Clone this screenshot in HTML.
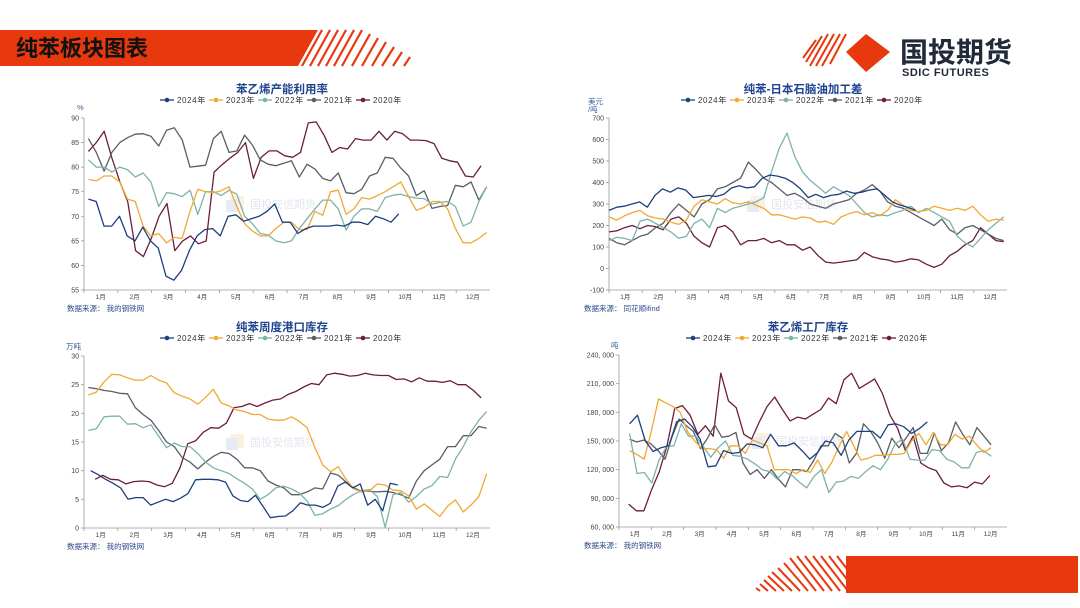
<!DOCTYPE html>
<html><head><meta charset="utf-8">
<style>
html,body{margin:0;padding:0;background:#fff;}
#wrap{position:relative;width:1080px;height:608px;overflow:hidden;background:#fff;font-family:"Liberation Sans","Noto Sans CJK SC",sans-serif;}
svg text{font-family:"Liberation Sans","Noto Sans CJK SC",sans-serif;}
</style></head>
<body>
<div id="wrap">
<svg id="s" width="1080" height="608" viewBox="0 0 1080 608" xmlns="http://www.w3.org/2000/svg">
  <g>
    <polygon points="0,30 318,30 298,66 0,66" fill="#e8380d"/>
    <g stroke="#e8380d" stroke-width="2.2">
      <line x1="322" y1="30" x2="302" y2="66"/><line x1="330" y1="30" x2="310" y2="66"/>
      <line x1="338" y1="30" x2="318" y2="66"/><line x1="346" y1="30" x2="326" y2="66"/>
      <line x1="354" y1="30" x2="334" y2="66"/><line x1="362" y1="30" x2="342" y2="66"/>
      <line x1="370" y1="34" x2="352" y2="66"/><line x1="378" y1="38" x2="362" y2="66"/>
      <line x1="386" y1="42" x2="372" y2="66"/><line x1="394" y1="47" x2="382" y2="66"/>
      <line x1="402" y1="52" x2="393" y2="66"/><line x1="410" y1="57" x2="404" y2="66"/>
    </g>
    <text x="16" y="56" font-size="22" font-weight="bold" fill="#111">纯苯板块图表</text>
  </g>
  <g>
    <g stroke="#e8380d" stroke-width="2">
      <line x1="816" y1="40" x2="803" y2="58"/><line x1="822" y1="36" x2="806" y2="62"/>
      <line x1="828" y1="34" x2="810" y2="66"/><line x1="834" y1="34" x2="816" y2="66"/>
      <line x1="840" y1="34" x2="822" y2="66"/><line x1="846" y1="34" x2="830" y2="64"/>
    </g>
    <polygon points="866,34 890,52 866,72 846,52" fill="#e8380d"/>
    <text x="900" y="62" font-size="28" font-weight="bold" fill="#222a3a">国投期货</text>
    <text x="902" y="76" font-size="11" font-weight="bold" fill="#222a3a" letter-spacing="0.5">SDIC FUTURES</text>
  </g>
  <g>
    <rect x="846" y="556" width="232" height="37" fill="#e8380d"/>
    <g stroke="#e8380d" stroke-width="2">
      <line x1="760" y1="591" x2="756" y2="588"/><line x1="768" y1="591" x2="760" y2="584"/>
      <line x1="776" y1="591" x2="764" y2="580"/><line x1="784" y1="591" x2="768" y2="576"/>
      <line x1="792" y1="591" x2="772" y2="572"/><line x1="800" y1="591" x2="778" y2="568"/>
      <line x1="808" y1="591" x2="784" y2="563"/><line x1="816" y1="591" x2="790" y2="558"/>
      <line x1="824" y1="591" x2="797" y2="556"/><line x1="832" y1="591" x2="805" y2="556"/>
      <line x1="840" y1="591" x2="813" y2="556"/><line x1="848" y1="591" x2="821" y2="556"/>
      <line x1="856" y1="591" x2="829" y2="556"/><line x1="864" y1="591" x2="837" y2="556"/>
    </g>
  </g>
  <g id="charts"></g>
</svg>
</div>
<script>
// ---------- Chart 1: 苯乙烯产能利用率 (%) ----------
const c1_2024 = [73.5,73,68,68,70,66,65,67.8,65,63.5,57.8,57,59,63,66,67.3,67.5,66,70,70.3,69,69.5,70,71,72.5,68.8,68.8,66.5,67.5,68,68,68,68.2,68,68.8,68.8,68.3,70,69.5,68.8,70.5];
const c1_2023 = [77.5,77.2,78.2,78.2,77,73.5,73,68,66,66.5,64.6,65.7,65.5,71,75.5,75,74.8,75.2,76,72,68.5,67,66,66,67.5,68.8,68.8,67.3,67.3,71,70.2,75,75.3,70.4,71.5,73.8,73.5,74.2,75,76,77,74,71.2,71.8,73,73,71.5,67.5,64.6,64.6,65.5,66.7];
const c1_2022 = [81.5,80,80,79,80,79.5,78,78.8,77,72,74.8,74.6,74,75.3,70.4,75,75,74.2,75.3,74.5,70,68.5,66.5,66.2,65,64.6,65,67.5,69.5,71.5,73.3,73.3,71.5,67.2,70,71.5,71.5,71,73.8,74.3,74.5,74,73.7,73.6,72.5,72.8,73,72,68,68.8,73,76];
const c1_2021 = [85.8,83,79.2,83,85,86,86.7,86.8,86.3,84.3,87.5,88,85.6,80,80.2,80.4,85.8,87.3,83,83.3,86.5,84.5,81.5,80.6,80.3,80.8,81.3,78,80.6,79.6,77.7,77.2,78.8,74.8,74.6,75.5,78.2,78.8,82,81.8,79.8,78.2,74.2,75.2,71.6,72,72.2,76.3,76,77,73.3,76];
const c1_2020 = [83.2,85,87.3,81.8,77,73,63,61.8,65.5,70,72.6,63,65,66,64.4,65,79,80.5,81.8,83,85,77.7,82,83.3,83.3,82.3,82,83,89,89.2,86.5,83,84,83.7,85.8,85.5,85.5,87.3,85.5,87.3,86.8,85.5,85.5,85.4,84.8,81.8,81.3,81,78.2,78,80.3];
const c1_ticks = [55,60,65,70,75,80,85,90];

// ---------- Chart 2: 纯苯-日本石脑油加工差 ----------
const c2_2024 = [270,285,290,300,310,285,340,370,355,375,365,330,335,340,335,345,375,385,375,380,420,435,430,420,400,370,330,345,330,340,345,360,350,355,365,370,340,310,295,285,270];
const c2_2023 = [240,225,245,260,270,245,235,230,215,205,225,290,320,310,300,325,305,300,310,295,280,250,250,240,230,240,235,215,220,205,240,255,265,250,260,245,270,320,295,270,265,270,290,280,270,280,270,290,250,220,230,225];
const c2_2022 = [130,145,140,130,220,230,210,190,170,140,150,210,230,190,280,260,280,290,300,310,330,450,560,630,520,450,410,380,350,380,360,340,300,260,240,250,245,260,270,290,260,280,260,240,220,150,120,100,140,180,210,240];
const c2_2021 = [140,120,110,130,150,160,190,210,260,300,270,240,300,320,370,380,400,420,495,460,420,400,370,340,350,330,300,290,280,300,310,320,350,365,390,360,310,290,280,260,240,220,200,230,180,160,190,200,180,160,140,130];
const c2_2020 = [170,175,190,200,185,200,195,180,230,240,210,150,120,100,190,200,170,110,130,130,140,120,130,110,110,85,100,60,30,25,30,35,40,75,55,45,40,30,35,45,40,20,5,20,60,80,110,130,190,160,130,125];
const c2_ticks = [-100,0,100,200,300,400,500,600,700];

// ---------- Chart 3: 纯苯周度港口库存 (万吨) ----------
const c3_2024 = [10,9.3,8.5,7.8,7,5,5.3,5.3,4,4.5,5,4.6,5.2,6,8.4,8.5,8.5,8.4,8,5.6,4.8,4.6,5.7,3.8,1.8,2,2.1,3,4.4,4,4,3.6,4.3,7.3,8,7,7.7,4,5,3,7.8,7.5];
const c3_2023 = [23.2,23.7,25.5,26.8,26.7,26.2,25.8,25.8,26.6,25.8,25.3,23.6,23,22.5,21.6,22.8,24.2,21.8,21.3,20.6,20.3,19.8,19.8,19,18.8,18.8,19.4,18.6,17.5,14,11,9.8,10.7,8.5,6.8,6.3,6.5,7.7,7.5,6.6,6.5,5.6,3.3,4.2,3.1,2,3.8,4.9,2.8,4,5.5,9.5];
const c3_2022 = [17,17.3,19.4,19.5,19.5,18.1,18.2,17.5,18,16,14,14.8,14.2,14.2,13,11.5,10.5,10,9.5,8.6,7.8,6.8,5,5.8,7,7.3,6.8,6.1,4.7,2.2,2.5,3.3,3.9,5,5.9,6.5,6.7,5.5,0.1,5.8,6.2,4.5,5.5,6.8,7.4,9,8.8,12,14.2,16.8,18.8,20.3];
const c3_2021 = [24.5,24.3,24,23.8,23.5,23.4,21,19.8,18.8,17,15,14.2,12.3,11.5,10.3,11.5,12.5,13.2,13,12,10.5,10.5,10,8.2,7.5,7,5.8,5.8,6.3,7,6.8,9.6,9.2,8,7,6.4,6.4,6.3,6.4,6.2,5.8,5.2,8.2,10,11,12,14.2,14.2,16.1,16.1,17.7,17.4];
const c3_2020 = [8.5,9.2,8.5,8.4,7.7,8.1,8.2,8.1,7.5,7.2,7.8,10.5,14.7,15.2,16.7,17.5,17.4,18.3,21,21.2,21.7,21.2,21.8,22.3,22.5,23.3,23.8,24.6,25.2,25,26.7,27,26.8,26.5,26.6,27,26.7,26.6,26.6,25.9,26,25.5,26.2,25.6,25.6,25.4,25.7,25,25,24,22.7];
const c3_ticks = [0,5,10,15,20,25,30];

// ---------- Chart 4: 苯乙烯工厂库存 (吨) ----------
const c4_2024 = [168000,177000,150000,139000,143000,145000,170000,173000,165000,152000,123000,124000,140000,137000,138000,147000,146000,143000,157000,145000,145000,148000,140000,131000,138000,150000,148000,135000,151000,160000,160000,160000,153000,167000,168000,165000,158000,163000,170000];
const c4_2023 = [140000,136000,131000,160000,194000,190000,186000,180000,160000,150000,142000,142000,141000,132000,145000,145000,137000,151000,148000,145000,120000,120000,120000,116000,120000,117000,130000,116000,128000,145000,160000,145000,130000,132000,135000,135000,136000,136000,137000,150000,158000,146000,159000,146000,146000,157000,152000,155000,146000,138000,143000];
const c4_2022 = [158000,116000,117000,106000,130000,144000,145000,168000,155000,155000,144000,133000,143000,150000,135000,134000,131000,126000,120000,118000,110000,118000,114000,107000,101000,113000,120000,96000,107000,108000,113000,111000,118000,124000,120000,131000,147000,152000,131000,130000,130000,141000,140000,131000,128000,122000,122000,138000,140000,134000];
const c4_2021 = [152000,149000,151000,147000,140000,131000,155000,173000,166000,160000,142000,153000,167000,154000,155000,159000,127000,115000,120000,111000,120000,110000,102000,120000,120000,118000,130000,145000,145000,158000,153000,127000,137000,168000,160000,148000,132000,153000,143000,153000,164000,137000,137000,158000,140000,148000,170000,157000,146000,164000,155000,146000];
const c4_2020 = [84000,77000,77000,99000,118000,145000,184000,187000,177000,157000,166000,155000,221000,192000,185000,157000,152000,170000,186000,196000,183000,171000,175000,173000,178000,183000,195000,189000,214000,221000,205000,210000,215000,200000,177000,163000,140000,155000,127000,122000,119000,106000,102000,103000,101000,107000,105000,114000];
const c4_ticks = [60000,90000,120000,150000,180000,210000,240000];

const months = ["1月","2月","3月","4月","5月","6月","7月","8月","9月","10月","11月","12月"];
const years = ["2024年","2023年","2022年","2021年","2020年"];
const colors = ["#1d3f7c","#f0a932","#7db2ab","#595e66","#6b1d3d"];

const NS = "http://www.w3.org/2000/svg";
const root = document.getElementById("charts");
function mk(tag, attrs, parent){
  const e = document.createElementNS(NS, tag);
  for (const k in attrs) e.setAttribute(k, attrs[k]);
  (parent||root).appendChild(e);
  return e;
}
function fmt(v, comma){ return comma ? v.toLocaleString("en-US").replace(/,/g, ", ") : String(v); }

function drawChart(cfg){
  const g = mk("g", {});
  
  
  const {xl,xr,yt,yb,ymin,ymax} = cfg;
  const X = d => xl + d/365*(xr-xl);
  const Y = v => yb - (v-ymin)/(ymax-ymin)*(yb-yt);
  const cx = (xl+xr)/2 - 5;
  // title
  const t = mk("text",{x:cx,y:cfg.titleY,"text-anchor":"middle","font-size":"11.5","font-weight":"bold",fill:"#1f4390"},g);
  t.textContent = cfg.title;
  
  
  // legend
  years.forEach((yr,k)=>{
    const lx = cx - 122 + k*49;
    const lg = mk("g",{},g);
    
    
    mk("line",{x1:lx,y1:cfg.legendY-3,x2:lx+14,y2:cfg.legendY-3,stroke:colors[k],"stroke-width":"1.3"},lg);
    mk("circle",{cx:lx+7,cy:cfg.legendY-3,r:"2.3",fill:colors[k]},lg);
    const lt = mk("text",{x:lx+17,y:cfg.legendY,"font-size":"8",fill:"#333","letter-spacing":"0.6"},lg);
    lt.textContent = yr;
  });
  // watermark
  const wm = mk("g",{opacity:"0.35"},g);
  
  
  mk("rect",{x:cx-52,y:(yt+yb)/2-8,width:"14",height:"14",fill:"#f3d9b0"},wm);
  mk("rect",{x:cx-56,y:(yt+yb)/2-4,width:"12",height:"12",fill:"#b8c8e0"},wm);
  const wt = mk("text",{x:cx-32,y:(yt+yb)/2+4,"font-size":"11",fill:"#aab8cc"},wm);
  wt.textContent = "国投安信期货";
  // axes
  const ax = mk("g",{},g);
  
  
  mk("line",{x1:xl,y1:yt,x2:xl,y2:yb,stroke:"#999","stroke-width":"0.8"},ax);
  mk("line",{x1:xl,y1:yb,x2:xr,y2:yb,stroke:"#999","stroke-width":"0.8"},ax);
  cfg.ticks.forEach(v=>{
    mk("line",{x1:xl-3,y1:Y(v),x2:xl,y2:Y(v),stroke:"#999","stroke-width":"0.8"},ax);
    const tl = mk("text",{x:xl-5,y:Y(v)+2.5,"text-anchor":"end","font-size":"7",fill:"#444"},ax);
    tl.textContent = fmt(v, cfg.comma);
    
    
  });
  months.forEach((m,i)=>{
    const d0 = i*365/12;
    mk("line",{x1:X(d0),y1:yb,x2:X(d0),y2:yb+3,stroke:"#999","stroke-width":"0.8"},ax);
    const ml = mk("text",{x:X(d0+15),y:yb+9,"text-anchor":"middle","font-size":"6.5",fill:"#444"},ax);
    ml.textContent = m;
    
    
  });
  // unit
  cfg.unit.forEach((u,i)=>{
    const ut = mk("text",{x:cfg.unitX,y:cfg.unitY+i*8,"font-size":"7.5",fill:"#3a5a9a"},g);
    ut.textContent = u;
    
    
  });
  // source
  const src = mk("text",{x:cfg.srcX,y:cfg.srcY,"font-size":"7.5",fill:"#2c4a8a"},g);
  src.textContent = cfg.source;
  
  
  // series (draw 2020 first so 2024 on top)
  for (let k=cfg.series.length-1;k>=0;k--){
    const s = cfg.series[k];
    const arr = s.data, n = arr.length;
    const pts = arr.map((v,i)=> X(s.d0 + i*(s.d1-s.d0)/(n-1)).toFixed(1)+","+Y(v).toFixed(1)).join(" ");
    const pl = mk("polyline",{points:pts,fill:"none",stroke:colors[k],"stroke-width":"1.3","stroke-linejoin":"round"},g);
    
    
  }
}

drawChart({name:"styrene-utilization-chart",title:"苯乙烯产能利用率",xl:84,xr:490,yt:118,yb:290,ymin:55,ymax:90,ticks:c1_ticks,
  titleY:93,legendY:103,unit:["%"],unitX:77,unitY:110,srcX:67,srcY:311,source:"数据来源：  我的钢铁网",
  series:[{data:c1_2024,d0:4,d1:283},{data:c1_2023,d0:4,d1:362},{data:c1_2022,d0:4,d1:362},{data:c1_2021,d0:4,d1:362},{data:c1_2020,d0:4,d1:357}]});
drawChart({name:"benzene-naphtha-spread-chart",title:"纯苯-日本石脑油加工差",xl:609,xr:1007,yt:118,yb:290,ymin:-100,ymax:700,ticks:c2_ticks,
  titleY:93,legendY:103,unit:["美元","/吨"],unitX:588,unitY:104,srcX:584,srcY:311,source:"数据来源：  同花顺ifind",
  series:[{data:c2_2024,d0:0,d1:281},{data:c2_2023,d0:0,d1:362},{data:c2_2022,d0:0,d1:362},{data:c2_2021,d0:0,d1:362},{data:c2_2020,d0:0,d1:362}]});
drawChart({name:"benzene-port-inventory-chart",title:"纯苯周度港口库存",xl:84,xr:490,yt:356,yb:528,ymin:0,ymax:30,ticks:c3_ticks,
  titleY:331,legendY:341,unit:["万吨"],unitX:66,unitY:349,srcX:67,srcY:549,source:"数据来源：  我的钢铁网",
  series:[{data:c3_2024,d0:6,d1:282},{data:c3_2023,d0:4,d1:362},{data:c3_2022,d0:4,d1:362},{data:c3_2021,d0:4,d1:362},{data:c3_2020,d0:10,d1:357}]});
drawChart({name:"styrene-factory-inventory-chart",title:"苯乙烯工厂库存",xl:619,xr:1007,yt:355,yb:527,ymin:60000,ymax:240000,ticks:c4_ticks,comma:true,
  titleY:331,legendY:341,unit:["吨"],unitX:611,unitY:348,srcX:584,srcY:548,source:"数据来源：  我的钢铁网",
  series:[{data:c4_2024,d0:10,d1:290},{data:c4_2023,d0:10,d1:350},{data:c4_2022,d0:10,d1:350},{data:c4_2021,d0:10,d1:350},{data:c4_2020,d0:9,d1:349}]});
</script>
</body></html>
